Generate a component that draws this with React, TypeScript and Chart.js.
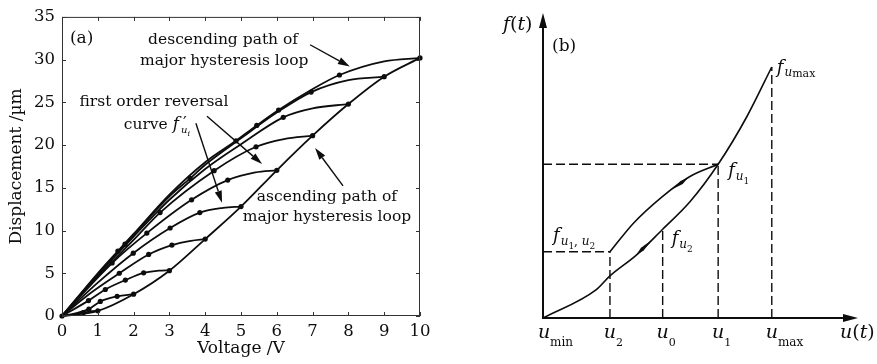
import React, { useEffect, useRef } from "react";
import { Chart, registerables } from "chart.js";
Chart.register(...registerables);

const SERIF = '"DejaVu Serif", "Liberation Serif", serif';

// ---------------- panel (a) data : [voltage V, displacement µm, dot?] ----------------
type P = [number, number, number];
const voltageTicks = [0, 1, 2, 3, 4, 5, 6, 7, 8, 9, 10];
const displacementTicks = [0, 5, 10, 15, 20, 25, 30, 35];

const ascendingMajor: P[] = [
  [0, 0, 1], [1, 0.6, 1], [2, 2.55, 1], [3, 5.3, 1], [4, 9.0, 1], [5, 12.8, 1],
  [6, 17.05, 1], [7, 21.1, 1], [8, 24.8, 1], [9, 28.0, 1], [10, 30.2, 1],
];
const descendingMajor: P[] = [
  [0, 0, 0], [1, 5.0, 0], [1.56, 7.6, 1], [2, 9.6, 0], [3, 14.2, 0], [4, 18.0, 0],
  [4.86, 20.5, 1], [5.44, 22.3, 1], [6.05, 24.1, 1], [6.98, 26.5, 0], [7.75, 28.2, 1],
  [9, 29.8, 0], [10, 30.2, 0],
];
const forc9: P[] = [
  [0, 0, 0], [1, 4.9, 0], [1.76, 8.4, 1], [2, 9.5, 0], [3, 14.0, 0], [3.58, 16.1, 1],
  [4, 17.7, 0], [5, 20.8, 0], [6, 23.8, 0], [6.96, 26.2, 1], [8, 27.6, 0], [9, 28.0, 0],
];
const forc8: P[] = [
  [0, 0, 0], [1, 4.8, 0], [2, 9.3, 0], [3, 13.6, 0], [4, 17.2, 0], [5, 20.1, 0],
  [6.18, 23.25, 1], [7, 24.3, 0], [8, 24.8, 0],
];
const forc7: P[] = [
  [0, 0, 0], [1, 4.6, 0], [2, 8.9, 0], [2.74, 12.1, 1], [4.25, 17.0, 1], [5.42, 19.8, 1],
  [6.2, 20.7, 0], [7, 21.1, 0],
];
const forc6: P[] = [
  [0, 0, 0], [1.4, 6.2, 1], [2.37, 9.7, 1], [3.62, 13.6, 1], [4.63, 15.9, 1], [5.4, 16.8, 0],
  [6, 17.05, 0],
];
const forc5: P[] = [
  [0, 0, 0], [1, 3.9, 0], [1.99, 7.35, 1], [3.02, 10.3, 1], [3.85, 12.1, 1], [4.5, 12.65, 0],
  [5, 12.8, 0],
];
const forc4: P[] = [
  [0, 0, 0], [0.8, 2.7, 0], [1.6, 5.0, 1], [2.42, 7.2, 1], [3.07, 8.3, 1], [3.6, 8.8, 0],
  [4, 9.0, 0],
];
const forc3: P[] = [
  [0, 0, 0], [0.74, 1.8, 1], [1.21, 3.1, 1], [1.77, 4.2, 1], [2.28, 5.05, 1], [2.7, 5.3, 0],
  [3, 5.35, 0],
];
const forc2: P[] = [
  [0, 0, 0], [0.4, 0.35, 0], [0.75, 0.8, 1], [1.07, 1.7, 1], [1.54, 2.3, 1], [2, 2.55, 0],
];
const forc1: P[] = [
  [0, 0, 0], [0.3, 0.12, 0], [0.6, 0.4, 1], [0.8, 0.55, 0], [1, 0.6, 0],
];

// annotation texts of (a): [voltage, displacement] anchors
const annotTextsA: { v: number; d: number; text: string }[] = [
  { v: 4.5, d: 32.3, text: "descending path of" },
  { v: 4.53, d: 29.9, text: "major hysteresis loop" },
  { v: 2.57, d: 25.1, text: "first order reversal" },
  { v: 7.4, d: 13.95, text: "ascending path of" },
  { v: 7.4, d: 11.6, text: "major hysteresis loop" },
];
const annotArrowsA: [number, number, number, number][] = [
  [6.93, 31.74, 8.04, 29.19],
  [4.05, 23.37, 5.59, 17.79],
  [3.74, 22.56, 4.47, 13.26],
  [7.85, 15.23, 7.07, 19.65],
];

// ---------------- panel (b) data ----------------
const uValues = [0, 2.16, 3.86, 5.65, 7.38]; // u_min, u_2, u_0, u_1, u_max
const uSubs = ["min", "2", "0", "1", "max"];
const F_U1 = 5.04;
const F_UMAX = 8.23;
const F_U1U2 = 2.17;
const F_U2 = 2.91;
const lowerPathU = [0, 1.72, 2.16, 3.02, 3.86, 4.74, 5.65, 6.57, 7.38];
const lowerPathF = [0, 0.93, 1.38, 2.07, 2.91, 3.81, 5.04, 6.59, 8.23];
const upperPathU = [2.16, 2.91, 3.86, 4.74, 5.65];
const upperPathF = [2.17, 3.1, 3.99, 4.64, 5.04];

// ---------------- helpers ----------------
type Seg = { t: string; s: number; it?: boolean; dy?: number; dx?: number; adv?: boolean };
function fontOf(sg: Seg) {
  return `${sg.it ? "italic " : ""}${sg.s}px ${SERIF}`;
}
function richWidth(ctx: CanvasRenderingContext2D, segs: Seg[]) {
  let w = 0;
  for (const sg of segs) {
    ctx.font = fontOf(sg);
    if (sg.adv !== false) w += ctx.measureText(sg.t).width + (sg.dx || 0);
  }
  return w;
}
function drawRich(ctx: CanvasRenderingContext2D, x: number, y: number, segs: Seg[], align = "left") {
  let cx = align === "center" ? x - richWidth(ctx, segs) / 2 : x;
  ctx.textAlign = "left";
  ctx.textBaseline = "alphabetic";
  for (const sg of segs) {
    ctx.font = fontOf(sg);
    ctx.fillText(sg.t, cx + (sg.dx || 0), y + (sg.dy || 0));
    if (sg.adv !== false) cx += ctx.measureText(sg.t).width + (sg.dx || 0);
  }
}
function arrow(ctx: CanvasRenderingContext2D, x1: number, y1: number, x2: number, y2: number, head = 12, half = 3.6) {
  const a = Math.atan2(y2 - y1, x2 - x1);
  const bx = x2 - head * Math.cos(a);
  const by = y2 - head * Math.sin(a);
  ctx.beginPath();
  ctx.moveTo(x1, y1);
  ctx.lineTo(bx, by);
  ctx.stroke();
  ctx.beginPath();
  ctx.moveTo(x2, y2);
  ctx.lineTo(bx + half * Math.sin(a), by - half * Math.cos(a));
  ctx.lineTo(bx - half * Math.sin(a), by + half * Math.cos(a));
  ctx.closePath();
  ctx.fill();
}

const INK = "#0d0d0d";

const frameA = {
  id: "frameA",
  afterDraw(chart: any) {
    const { ctx, chartArea: ca, scales } = chart;
    const x = scales.x, y = scales.y;
    ctx.save();
    ctx.strokeStyle = "#333";
    ctx.lineWidth = 1;
    ctx.strokeRect(ca.left + 0.5, ca.top + 0.5, ca.right - ca.left - 1, ca.bottom - ca.top - 1);
    const tl = 4;
    ctx.beginPath();
    for (const v of voltageTicks) {
      const px = Math.round(x.getPixelForValue(v)) + 0.5;
      ctx.moveTo(px, ca.bottom); ctx.lineTo(px, ca.bottom - tl);
      ctx.moveTo(px, ca.top); ctx.lineTo(px, ca.top + tl);
    }
    for (const d of displacementTicks) {
      const py = Math.round(y.getPixelForValue(d)) + 0.5;
      ctx.moveTo(ca.left, py); ctx.lineTo(ca.left + tl, py);
      ctx.moveTo(ca.right, py); ctx.lineTo(ca.right - tl, py);
    }
    ctx.stroke();

    ctx.fillStyle = INK;
    ctx.strokeStyle = INK;
    // panel label
    drawRich(ctx, x.getPixelForValue(0.22), y.getPixelForValue(32.6) + 6, [{ t: "(a)", s: 17 }]);
    ctx.font = `15.5px ${SERIF}`;
    ctx.textAlign = "center";
    ctx.textBaseline = "middle";
    for (const a of annotTextsA) {
      ctx.fillText(a.text, x.getPixelForValue(a.v), y.getPixelForValue(a.d));
    }
    drawRich(ctx, x.getPixelForValue(2.65), y.getPixelForValue(21.86), [
      { t: "curve ", s: 15.5 },
      { t: "f", s: 17, it: true },
      { t: "′", s: 17, dy: -1, dx: 4, adv: false },
      { t: "u", s: 10, it: true, dy: 4, dx: 2 },
      { t: "i", s: 8, it: true, dy: 7 },
    ], "center");
    ctx.lineWidth = 1.4;
    for (const [v1, d1, v2, d2] of annotArrowsA) {
      arrow(ctx, x.getPixelForValue(v1), y.getPixelForValue(d1), x.getPixelForValue(v2), y.getPixelForValue(d2));
    }
    ctx.restore();
  },
};

function PanelA() {
  const ref = useRef<HTMLCanvasElement>(null);
  useEffect(() => {
    const curves = [descendingMajor, forc9, forc8, forc7, forc6, forc5, forc4, forc3, forc2, forc1, ascendingMajor];
    const chart = new Chart(ref.current as HTMLCanvasElement, {
      type: "line",
      data: {
        datasets: curves.map((c) => ({
          data: c.map((p) => ({ x: p[0], y: p[1] })),
          borderColor: INK,
          borderWidth: 1.8,
          pointRadius: c.map((p) => (p[2] ? 2.6 : 0)),
          pointHoverRadius: 0,
          pointBackgroundColor: INK,
          pointBorderColor: INK,
          pointBorderWidth: 0,
          cubicInterpolationMode: "monotone",
          fill: false,
          clip: 5,
        })),
      } as any,
      options: {
        responsive: false,
        animation: false,
        events: [],
        layout: { padding: { left: 0, right: 20, top: 15, bottom: 0 } },
        plugins: { legend: { display: false }, tooltip: { enabled: false } },
        scales: {
          x: {
            type: "linear",
            min: 0,
            max: 10,
            afterFit: (s: any) => { s.height = 48; },
            afterBuildTicks: (s: any) => { s.ticks = voltageTicks.map((v) => ({ value: v })); },
            ticks: { font: { family: SERIF, size: 16.5 }, color: INK, padding: 6, maxRotation: 0, autoSkip: false },
            grid: { display: false, drawTicks: false },
            border: { display: false },
            title: { display: true, text: "Voltage /V", font: { family: SERIF, size: 17 }, color: INK, padding: { top: 0, bottom: 5 } },
          },
          y: {
            type: "linear",
            min: 0,
            max: 35,
            afterFit: (s: any) => { s.width = 62; },
            afterBuildTicks: (s: any) => { s.ticks = displacementTicks.map((v) => ({ value: v })); },
            ticks: { font: { family: SERIF, size: 16.5 }, color: INK, padding: 7, autoSkip: false },
            grid: { display: false, drawTicks: false },
            border: { display: false },
            title: { display: true, text: "Displacement /µm", font: { family: SERIF, size: 17 }, color: INK, padding: { top: 6, bottom: 0 } },
          },
        },
      } as any,
      plugins: [frameA],
    });
    return () => chart.destroy();
  }, []);
  return <canvas ref={ref} width={440} height={364} style={{ position: "absolute", left: 0, top: 0 }} />;
}

// ---------------- panel (b) ----------------
function pointOnPath(us: number[], fs: number[], u: number) {
  for (let i = 0; i < us.length - 1; i++) {
    if (u >= us[i] && u <= us[i + 1]) {
      const t = (u - us[i]) / (us[i + 1] - us[i]);
      return fs[i] + t * (fs[i + 1] - fs[i]);
    }
  }
  return fs[fs.length - 1];
}

const drawB = {
  id: "drawB",
  afterDraw(chart: any) {
    const { ctx, chartArea: ca, scales } = chart;
    const x = scales.x, y = scales.y;
    const ox = x.getPixelForValue(0), oy = y.getPixelForValue(0);
    ctx.save();
    ctx.fillStyle = INK;
    ctx.strokeStyle = INK;
    ctx.lineWidth = 2;
    arrow(ctx, ox, oy + 1, ox, ca.top, 15, 4);
    arrow(ctx, ox - 1, oy, ca.right + 5, oy, 15, 4);

    // direction marks on the paths
    const marks: [number[], number[], number, number][] = [
      [upperPathU, upperPathF, 4.42, -1],
      [lowerPathU, lowerPathF, 3.25, 1],
    ];
    for (const [us, fs, u, dir] of marks) {
      const pa = [x.getPixelForValue(u - 0.25), y.getPixelForValue(pointOnPath(us, fs, u - 0.25))];
      const pb = [x.getPixelForValue(u + 0.25), y.getPixelForValue(pointOnPath(us, fs, u + 0.25))];
      const [s0, s1] = dir > 0 ? [pa, pb] : [pb, pa];
      const a = Math.atan2(s1[1] - s0[1], s1[0] - s0[0]);
      const h = 1.9;
      const mx = (s0[0] + s1[0]) / 2 - 2 * Math.cos(a), my = (s0[1] + s1[1]) / 2 - 2 * Math.sin(a);
      ctx.beginPath();
      ctx.moveTo(s1[0], s1[1]);
      ctx.lineTo(mx + h * Math.sin(a), my - h * Math.cos(a));
      ctx.lineTo(s0[0], s0[1]);
      ctx.lineTo(mx - h * Math.sin(a), my + h * Math.cos(a));
      ctx.closePath();
      ctx.fill();
    }

    // texts
    drawRich(ctx, ox - 40, y.getPixelForValue(10) + 17, [
      { t: "f", s: 19, it: true }, { t: "(", s: 19 }, { t: "t", s: 19, it: true }, { t: ")", s: 19 },
    ]);
    drawRich(ctx, ox + 9, y.getPixelForValue(10) + 38, [{ t: "(b)", s: 17 }]);
    drawRich(ctx, ca.right - 13, oy + 20, [
      { t: "u", s: 19, it: true }, { t: "(", s: 19 }, { t: "t", s: 19, it: true }, { t: ")", s: 19 },
    ]);
    uValues.forEach((u, i) => {
      const px = x.getPixelForValue(u);
      ctx.font = `italic 19px ${SERIF}`;
      const w = ctx.measureText("u").width;
      const sub = uSubs[i];
      drawRich(ctx, px - w / 2 + (i === 0 ? 1 : 0), oy + 20, [
        { t: "u", s: 19, it: true },
        { t: sub, s: sub.length > 1 ? 12 : 11, dy: 8 },
      ]);
    });
    const U1 = uValues[3], U0 = uValues[2], UMAX = uValues[4];
    drawRich(ctx, x.getPixelForValue(UMAX) + 5, y.getPixelForValue(F_UMAX) + 6, [
      { t: "f", s: 18, it: true }, { t: "u", s: 12, it: true, dy: 3, dx: 1 }, { t: "max", s: 11, dy: 4 },
    ]);
    drawRich(ctx, x.getPixelForValue(U1) + 10, y.getPixelForValue(F_U1) + 12, [
      { t: "f", s: 18, it: true }, { t: "u", s: 12, it: true, dy: 4, dx: 1 }, { t: "1", s: 9, dy: 8 },
    ]);
    drawRich(ctx, ox + 10, y.getPixelForValue(F_U1U2) - 11, [
      { t: "f", s: 18, it: true }, { t: "u", s: 12, it: true, dy: 4, dx: 1 }, { t: "1", s: 9, dy: 8 },
      { t: ", ", s: 12, dy: 4 }, { t: "u", s: 12, it: true, dy: 4 }, { t: "2", s: 9, dy: 8 },
    ]);
    drawRich(ctx, x.getPixelForValue(U0) + 9, y.getPixelForValue(F_U2) + 15, [
      { t: "f", s: 18, it: true }, { t: "u", s: 12, it: true, dy: 4, dx: 1 }, { t: "2", s: 9, dy: 8 },
    ]);
    ctx.restore();
  },
};

function PanelB() {
  const ref = useRef<HTMLCanvasElement>(null);
  useEffect(() => {
    const U2 = uValues[1], U0 = uValues[2], U1 = uValues[3], UMAX = uValues[4];
    const guides: [number, number][][] = [
      [[0, F_U1], [U1, F_U1]],
      [[U1, 0], [U1, F_U1]],
      [[0, F_U1U2], [U2, F_U1U2]],
      [[U2, 0], [U2, F_U1U2]],
      [[U0, 0], [U0, F_U2]],
      [[UMAX, 0], [UMAX, F_UMAX]],
    ];
    const dashed = guides.map((g) => ({
      data: g.map(([u, f]) => ({ x: u, y: f })),
      borderColor: INK,
      borderWidth: 1.4,
      borderDash: [9, 4],
      pointRadius: 0,
      fill: false,
      tension: 0,
    }));
    const paths = [
      { us: lowerPathU, fs: lowerPathF },
      { us: upperPathU, fs: upperPathF },
    ].map((p) => ({
      data: p.us.map((u, i) => ({ x: u, y: p.fs[i] })),
      borderColor: INK,
      borderWidth: 1.6,
      pointRadius: 0,
      fill: false,
      cubicInterpolationMode: "monotone",
    }));
    const chart = new Chart(ref.current as HTMLCanvasElement, {
      type: "line",
      data: { datasets: [...dashed, ...paths] } as any,
      options: {
        responsive: false,
        animation: false,
        events: [],
        layout: { padding: { left: 103, right: 24, top: 13, bottom: 46 } },
        plugins: { legend: { display: false }, tooltip: { enabled: false } },
        scales: {
          x: { type: "linear", min: 0, max: 10, display: false },
          y: { type: "linear", min: 0, max: 10, display: false },
        },
      } as any,
      plugins: [drawB],
    });
    return () => chart.destroy();
  }, []);
  return <canvas ref={ref} width={437} height={364} style={{ position: "absolute", left: 440, top: 0 }} />;
}

export default function App() {
  return (
    <div style={{ position: "fixed", left: 0, top: 0, width: 877, height: 364, background: "#fff", overflow: "hidden" }}>
      <PanelA />
      <PanelB />
    </div>
  );
}
